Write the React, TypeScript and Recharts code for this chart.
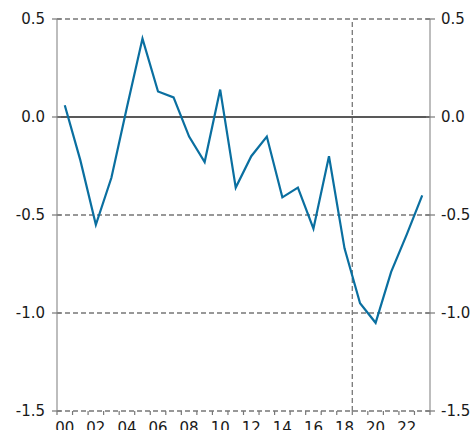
import React from 'react';
import { LineChart, Line, XAxis, YAxis, ReferenceLine } from 'recharts';

const hours = ['00','01','02','03','04','05','06','07','08','09','10','11','12','13','14','15','16','17','18','19','20','21','22','23'];
const values = [0.06,-0.22,-0.55,-0.31,0.05,0.40,0.13,0.10,-0.10,-0.23,0.14,-0.36,-0.20,-0.10,-0.41,-0.36,-0.57,-0.20,-0.67,-0.95,-1.05,-0.79,-0.60,-0.40];
const yTicks = [-1.5, -1.0, -0.5, 0, 0.5];
const dashedLevels = [-1.5, -1.0, -0.5, 0.5];
const markerHour = 19;

const data = hours.map((h, i) => ({ x: i + 0.5, label: h, v: values[i] }));
const xTicks: number[] = [];
for (let k = 0; k <= 48; k++) xTicks.push(k / 2);

const FONT = 'DejaVu Sans, Verdana, sans-serif';
const TEXT = '#1a1a1a';
const AXIS = '#9a9a9a';
const GRID = '#777777';

const XTick = (props: any) => {
  const { x, y, payload } = props;
  const v = payload.value as number;
  if (Number.isInteger(v)) {
    return <line x1={x} x2={x} y1={y} y2={y + 4} stroke={GRID} strokeWidth={1.2} />;
  }
  const idx = Math.floor(v);
  if (idx % 2 === 0 && idx < hours.length) {
    return (
      <text x={x} y={y + 11} dy="0.71em" textAnchor="middle" fontFamily={FONT} fontSize={15} fill={TEXT}>
        {hours[idx]}
      </text>
    );
  }
  return <g />;
};

const YTickLeft = (props: any) => {
  const { x, y, payload } = props;
  return (
    <g>
      <line x1={x - 5} x2={x + 4} y1={y} y2={y} stroke={GRID} strokeWidth={1.2} />
      <text x={x - 12} y={y} dy="0.35em" textAnchor="end" fontFamily={FONT} fontSize={15} fill={TEXT}>
        {(payload.value as number).toFixed(1)}
      </text>
    </g>
  );
};

const YTickRight = (props: any) => {
  const { x, y, payload } = props;
  return (
    <g>
      <line x1={x - 4} x2={x + 5} y1={y} y2={y} stroke={GRID} strokeWidth={1.2} />
      <text x={x + 11} y={y} dy="0.35em" textAnchor="start" fontFamily={FONT} fontSize={15} fill={TEXT}>
        {(payload.value as number).toFixed(1)}
      </text>
    </g>
  );
};

export default function App() {
  return (
    <div style={{ position: 'absolute', left: 0, top: 0 }}>
      <LineChart width={474} height={430} data={data} margin={{ top: 19, right: 0, bottom: 0, left: 0 }}>
        <XAxis
          dataKey="x"
          type="number"
          domain={[0, 24]}
          ticks={xTicks}
          interval={0}
          tick={<XTick />}
          tickLine={false}
          tickSize={0}
          tickMargin={0}
          axisLine={false}
          height={19}
        />
        <YAxis
          yAxisId="left"
          orientation="left"
          type="number"
          domain={[-1.5, 0.5]}
          ticks={yTicks}
          interval={0}
          width={57}
          tick={<YTickLeft />}
          tickLine={false}
          tickSize={0}
          tickMargin={0}
          axisLine={{ stroke: AXIS, strokeWidth: 1.3 }}
        />
        <YAxis
          yAxisId="right"
          orientation="right"
          type="number"
          domain={[-1.5, 0.5]}
          ticks={yTicks}
          interval={0}
          width={44}
          tick={<YTickRight />}
          tickLine={false}
          tickSize={0}
          tickMargin={0}
          axisLine={{ stroke: AXIS, strokeWidth: 1.3 }}
        />
        {dashedLevels.map((lv) => (
          <ReferenceLine key={lv} yAxisId="left" y={lv} stroke={GRID} strokeWidth={1.3} strokeDasharray="5 3" />
        ))}
        <ReferenceLine yAxisId="left" x={markerHour} stroke={GRID} strokeWidth={1.3} strokeDasharray="5 3" />
        <ReferenceLine yAxisId="left" y={0} stroke="#222222" strokeWidth={1.5} />
        <Line
          yAxisId="right"
          type="linear"
          dataKey="v"
          stroke="transparent"
          strokeWidth={0}
          dot={false}
          activeDot={false}
          legendType="none"
          isAnimationActive={false}
        />
        <Line
          yAxisId="left"
          type="linear"
          dataKey="v"
          stroke="#0a6fa0"
          strokeWidth={2.2}
          dot={false}
          isAnimationActive={false}
        />
      </LineChart>
    </div>
  );
}
